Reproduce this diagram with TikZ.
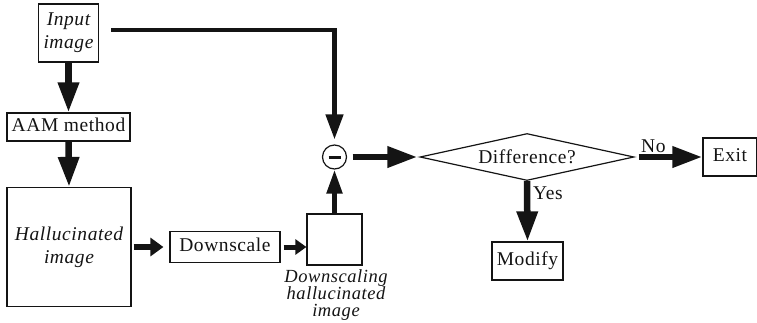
\documentclass[tikz,border=0pt]{standalone}
\usepackage{fontspec}
\setmainfont{Liberation Serif}[LetterSpace=3]
\usetikzlibrary{arrows.meta,shapes.geometric,calc}
\newcommand\myfs{\fontsize{19.5}{23}\selectfont}
\begin{document}
\begin{tikzpicture}[x=1pt,y=-1pt,
  every node/.style={font=\myfs, text=black!92},
  box/.style={draw=black!92, line width=1.2pt, inner sep=0pt, text height=13pt, text depth=4pt},
  mbox/.style={draw=black!92, line width=1.2pt, inner sep=0pt},
  conn/.style={draw=black!92, line join=miter},
  big/.style={conn, line width=6.5pt, -{Triangle[length=30pt,width=20pt]}},
  mid/.style={conn, line width=5.5pt, -{Triangle[length=13pt,width=18pt]}},
  small/.style={conn, line width=5pt, -{Triangle[length=11pt,width=15pt]}},
  upar/.style={conn, line width=5pt, -{Triangle[length=24pt,width=15pt]}},
  thin/.style={conn, line width=4.5pt, -{Triangle[length=25pt,width=17pt]}},
  lbl/.style={inner sep=0pt, font=\myfs}]
\fill[white] (0,0) rectangle (757,322);
\useasboundingbox (0,0) rectangle (757,322);

\node[mbox, minimum width=60pt, minimum height=58pt, align=center, font=\myfs\itshape] (input) at (68.5,33) {Input\\image};
\node[box, minimum width=123pt, minimum height=28pt] (aam) at (68.5,127) {AAM method};
\node[mbox, minimum width=124pt, minimum height=119pt, align=center, font=\myfs\itshape] (hall) at (69,247) {Hallucinated\\image};
\node[box, minimum width=110pt, minimum height=31pt] (down) at (225,247) {Downscale};
\node[mbox, minimum width=55pt, minimum height=51pt] (small) at (334.5,239.5) {};
\node[inner sep=0pt, anchor=north, align=center, font={\fontsize{18.5}{17.2}\selectfont\lineskiplimit=-30pt\itshape}] (cap) at (336,269) {Downscaling\\hallucinated\\image};
\node[draw=black!92, circle, line width=1.2pt, minimum size=24pt, inner sep=0pt] (minus) at (334.5,157) {\rule[-1.5pt]{12pt}{3pt}};
\node[draw=black!92, diamond, aspect=4.55, minimum width=214pt, minimum height=47pt, inner sep=0pt, line width=1.2pt] (diff) at (527,157) {Difference?};
\node[box, minimum width=71pt, minimum height=38pt] (modify) at (527.5,261) {Modify};
\node[box, minimum width=54pt, minimum height=38pt] (exit) at (730,157) {Exit};
\node[lbl, anchor=base west] (yes) at (533,199) {Yes};
\node[lbl, anchor=base west] (no) at (641,152) {No};

\draw[big] (input.south) -- (aam.north);
\draw[big] (aam.south) -- (hall.north);
\draw[mid, shorten <=2pt, shorten >=6pt] (hall.east) -- (hall.east -| down.west);
\draw[small, shorten <=3pt] (down.east) -- (down.east -| small.west);
\draw[upar] (small.north) -- (minus.south);
\draw[thin, shorten >=5pt] ([xshift=12pt,yshift=3pt]input.east) -| (minus.north);
\draw[big, shorten <=5.5pt, shorten >=2pt] (minus.east) -- (diff.west);
\draw[big] (diff.south) -- (modify.north);
\draw[big, shorten <=4pt] (diff.east) -- (exit.west);
\end{tikzpicture}
\end{document}
